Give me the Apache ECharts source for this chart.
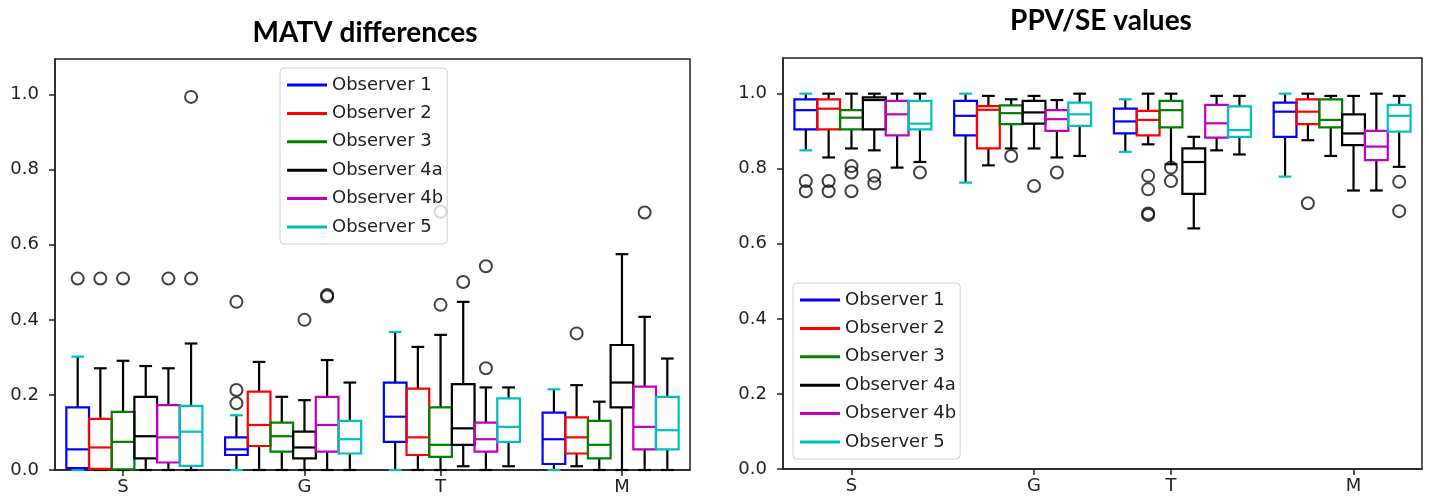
<!DOCTYPE html>
<html>
<head>
<meta charset="utf-8">
<script src="https://cdn.jsdelivr.net/npm/echarts@6/dist/echarts.min.js"></script>
<style>
  html, body { margin: 0; padding: 0; background: #fff; }
  #main { width: 1429px; height: 499px; }
</style>
</head>
<body>
<div id="main"></div>
<script>
// categories and observers
var categories = ['S', 'G', 'T', 'M'];
var observers = ['Observer 1', 'Observer 2', 'Observer 3', 'Observer 4a', 'Observer 4b', 'Observer 5'];

// MATV differences: [min, q1, median, q3, max] per category S, G, T, M
var matvObs1 = [[0, 0.005, 0.055, 0.167, 0.302], [0, 0.040, 0.055, 0.087, 0.146], [0, 0.075, 0.142, 0.233, 0.368], [0, 0.016, 0.082, 0.153, 0.215]];
var matvObs2 = [[0, 0.003, 0.060, 0.136, 0.271], [0, 0.064, 0.120, 0.209, 0.288], [0, 0.040, 0.087, 0.217, 0.328], [0.010, 0.044, 0.087, 0.140, 0.226]];
var matvObs3 = [[0, 0.002, 0.075, 0.155, 0.291], [0, 0.049, 0.090, 0.126, 0.195], [0, 0.035, 0.067, 0.167, 0.360], [0, 0.031, 0.067, 0.131, 0.182]];
var matvObs4a = [[0, 0.031, 0.090, 0.195, 0.277], [0, 0.031, 0.060, 0.102, 0.186], [0.010, 0.067, 0.111, 0.229, 0.448], [0, 0.167, 0.233, 0.333, 0.575]];
var matvObs4b = [[0, 0.020, 0.087, 0.173, 0.271], [0, 0.049, 0.120, 0.195, 0.293], [0, 0.049, 0.082, 0.126, 0.220], [0, 0.055, 0.115, 0.222, 0.408]];
var matvObs5 = [[0, 0.011, 0.102, 0.171, 0.337], [0, 0.044, 0.082, 0.131, 0.233], [0.010, 0.075, 0.115, 0.191, 0.220], [0, 0.055, 0.106, 0.195, 0.297]];
// outliers: [category index, observer index, value]
var matvOutliers = [
    [0, 0, 0.51], [0, 1, 0.51], [0, 2, 0.51], [0, 4, 0.51], [0, 5, 0.51], [0, 5, 0.994],
    [1, 0, 0.213], [1, 0, 0.178], [1, 0, 0.448], [1, 3, 0.40], [1, 4, 0.462], [1, 4, 0.466],
    [2, 2, 0.44], [2, 2, 0.688], [2, 3, 0.501], [2, 4, 0.271], [2, 4, 0.543],
    [3, 1, 0.364], [3, 4, 0.686]
];

// PPV/SE values
var ppvObs1 = [[0.849, 0.905, 0.956, 0.985, 1.0], [0.763, 0.889, 0.941, 0.981, 1.0], [0.845, 0.894, 0.926, 0.960, 0.985], [0.779, 0.885, 0.952, 0.976, 1.0]];
var ppvObs2 = [[0.830, 0.905, 0.960, 0.985, 1.0], [0.809, 0.854, 0.957, 0.967, 0.994], [0.865, 0.889, 0.930, 0.954, 1.0], [0.876, 0.919, 0.952, 0.985, 1.0]];
var ppvObs3 = [[0.854, 0.905, 0.936, 0.956, 1.0], [0.854, 0.919, 0.948, 0.969, 0.985], [0.812, 0.910, 0.956, 0.981, 1.0], [0.834, 0.910, 0.930, 0.985, 0.994]];
var ppvObs4a = [[0.849, 0.905, 0.983, 0.990, 1.0], [0.854, 0.920, 0.950, 0.981, 0.994], [0.641, 0.733, 0.818, 0.854, 0.885], [0.742, 0.863, 0.894, 0.945, 0.994]];
var ppvObs4b = [[0.803, 0.889, 0.945, 0.981, 1.0], [0.830, 0.901, 0.932, 0.956, 0.983], [0.849, 0.883, 0.921, 0.970, 0.994], [0.742, 0.823, 0.859, 0.901, 1.0]];
var ppvObs5 = [[0.818, 0.905, 0.920, 0.981, 1.0], [0.834, 0.914, 0.945, 0.976, 1.0], [0.838, 0.885, 0.903, 0.966, 0.994], [0.805, 0.899, 0.941, 0.970, 0.994]];
var ppvOutliers = [
    [0, 0, 0.767], [0, 0, 0.740], [0, 1, 0.767], [0, 1, 0.740], [0, 2, 0.807], [0, 2, 0.790], [0, 2, 0.740],
    [0, 3, 0.781], [0, 3, 0.761], [0, 5, 0.790],
    [1, 2, 0.834], [1, 3, 0.754], [1, 4, 0.790],
    [2, 1, 0.781], [2, 1, 0.745], [2, 1, 0.681], [2, 1, 0.677], [2, 2, 0.803], [2, 2, 0.767],
    [3, 1, 0.708], [3, 5, 0.765], [3, 5, 0.687]
];

var yTicks = [0, 0.2, 0.4, 0.6, 0.8, 1.0];

// styles
var colors = ['#0000ff', '#ff0000', '#008000', '#000000', '#bf00bf', '#00bfbf'];
var capColors = ['#00bfbf', '#000', '#000', '#000', '#000', '#000'];
var groupStart = [0, 7, 14, 21];      // slot of first box in each group
var tickSlots = [2, 10, 16, 24];      // where the category labels sit
var font = 'DejaVu Sans';

var matvBoxes = [matvObs1, matvObs2, matvObs3, matvObs4a, matvObs4b, matvObs5];
var ppvBoxes = [ppvObs1, ppvObs2, ppvObs3, ppvObs4a, ppvObs4b, ppvObs5];

function boxData(rows, obs) {
    return rows.map(function (r, g) {
        return [groupStart[g] + obs].concat(r);
    });
}
function outlierData(list) {
    return list.map(function (o) { return [groupStart[o[0]] + o[1], o[2]]; });
}

function makeRender(color, capColor) {
    return function (params, api) {
        var x = api.value(0);
        var w = api.size([1, 0])[0];
        var half = w / 2, capHalf = w * 0.28;
        var lo = api.coord([x, api.value(1)]);
        var q1 = api.coord([x, api.value(2)]);
        var md = api.coord([x, api.value(3)]);
        var q3 = api.coord([x, api.value(4)]);
        var hi = api.coord([x, api.value(5)]);
        var cx = lo[0];
        var lw = 2.2;
        return {
            type: 'group',
            children: [
                { type: 'line', shape: { x1: cx, y1: q3[1], x2: cx, y2: hi[1] }, style: { stroke: '#000', lineWidth: lw } },
                { type: 'line', shape: { x1: cx, y1: q1[1], x2: cx, y2: lo[1] }, style: { stroke: '#000', lineWidth: lw } },
                { type: 'line', shape: { x1: cx - capHalf, y1: hi[1], x2: cx + capHalf, y2: hi[1] }, style: { stroke: capColor, lineWidth: lw } },
                { type: 'line', shape: { x1: cx - capHalf, y1: lo[1], x2: cx + capHalf, y2: lo[1] }, style: { stroke: capColor, lineWidth: lw } },
                { type: 'rect', shape: { x: cx - half, y: q3[1], width: w, height: q1[1] - q3[1] }, style: { fill: 'none', stroke: color, lineWidth: lw } },
                { type: 'line', shape: { x1: cx - half, y1: md[1], x2: cx + half, y2: md[1] }, style: { stroke: color, lineWidth: lw } }
            ]
        };
    };
}

var myChart = echarts.init(document.getElementById('main'));

var grids = [
    { left: 55, right: 739, top: 59, bottom: 29 },
    { left: 783, right: 7, top: 58, bottom: 30 }
];

function xAxisFor(i) {
    return {
        type: 'value', gridIndex: i, min: -1, max: 27,
        position: 'bottom',
        splitLine: { show: false },
        axisLine: { show: true, onZero: false, lineStyle: { color: '#222', width: 1.5 } },
        axisTick: { show: true, inside: false, length: 6, customValues: tickSlots, lineStyle: { color: '#222', width: 1.5 } },
        axisLabel: {
            customValues: tickSlots, margin: 8,
            fontFamily: font, fontSize: 18, color: '#222',
            formatter: function (v) { return categories[tickSlots.indexOf(v)] || ''; }
        }
    };
}
function yAxisFor(i) {
    return {
        type: 'value', gridIndex: i, min: 0, max: 1.095,
        position: 'left',
        splitLine: { show: false },
        axisLine: { show: true, onZero: false, lineStyle: { color: '#222', width: 1.5 } },
        axisTick: { show: true, inside: false, length: 6, customValues: yTicks, lineStyle: { color: '#222', width: 1.5 } },
        axisLabel: {
            customValues: yTicks, margin: 16,
            fontFamily: font, fontSize: 18, color: '#222',
            formatter: function (v) { return v.toFixed(1); }
        }
    };
}

var series = [];
[matvBoxes, ppvBoxes].forEach(function (boxes, gi) {
    boxes.forEach(function (rows, k) {
        series.push({
            name: observers[k],
            type: 'custom',
            xAxisIndex: gi, yAxisIndex: gi,
            itemStyle: { color: colors[k] },
            encode: { x: 0, y: [1, 2, 3, 4, 5] },
            renderItem: makeRender(colors[k], capColors[k]),
            clip: false,
            silent: true,
            data: boxData(rows, k)
        });
    });
    series.push({
        name: 'outliers',
        type: 'scatter',
        xAxisIndex: gi, yAxisIndex: gi,
        symbol: 'circle',
        symbolSize: 12,
        itemStyle: { color: 'rgba(0,0,0,0)', borderColor: '#111', borderWidth: 2 },
        silent: true,
        z: 3,
        data: outlierData(gi === 0 ? matvOutliers : ppvOutliers)
    });
});

function legendAt(left, top) {
    return {
        data: observers,
        orient: 'vertical',
        left: left, top: top,
        icon: 'rect',
        itemWidth: 40, itemHeight: 3,
        itemGap: 8.4,
        itemTextGap: 13,
        padding: [7, 4, 7, 7],
        backgroundColor: 'rgba(255,255,255,0.8)',
        borderColor: '#d0d0d0', borderWidth: 1, borderRadius: 4,
        z: 10,
        textStyle: { fontFamily: font, fontSize: 18, lineHeight: 20, color: '#222' }
    };
}

var option = {
    backgroundColor: '#fff',
    animation: false,
    title: [
        { text: 'MATV differences', left: 360, top: 14, textAlign: 'center',
          textStyle: { fontFamily: 'Lato', fontWeight: 'bold', fontSize: 28, color: '#000' } },
        { text: 'PPV/SE values', left: 1096, top: 2, textAlign: 'center',
          textStyle: { fontFamily: 'Lato', fontWeight: 'bold', fontSize: 28, color: '#000' } }
    ],
    grid: grids.map(function (g) {
        return { left: g.left, right: g.right, top: g.top, bottom: g.bottom, show: true,
                 borderColor: '#222', borderWidth: 1.5, backgroundColor: 'transparent' };
    }),
    legend: [legendAt(280, 68), legendAt(793, 283)],
    xAxis: [xAxisFor(0), xAxisFor(1)],
    yAxis: [yAxisFor(0), yAxisFor(1)],
    series: series
};

myChart.setOption(option);
</script>
</body>
</html>
